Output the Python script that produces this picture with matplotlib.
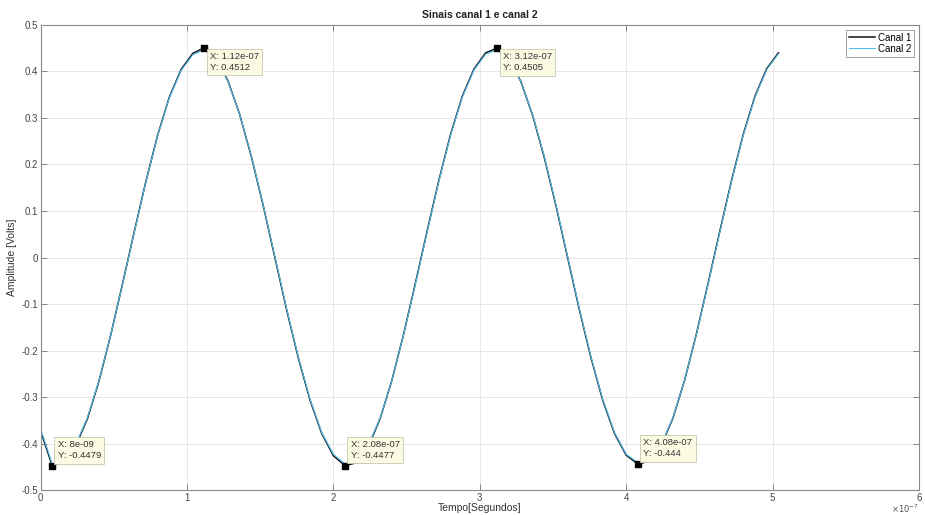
import matplotlib
matplotlib.use("Agg")
import matplotlib.pyplot as plt
from matplotlib.ticker import FormatStrFormatter, FuncFormatter

plt.rcParams["font.family"] = ["Liberation Sans", "DejaVu Sans"]
plt.rcParams["axes.unicode_minus"] = False

# tempo de amostragem (ns)
tempo_ns = [0, 8, 16, 24, 32, 40, 48, 56, 64, 72, 80, 88, 96, 104, 112, 120,
            128, 136, 144, 152, 160, 168, 176, 184, 192, 200, 208, 216, 224, 232, 240, 248,
            256, 264, 272, 280, 288, 296, 304, 312, 320, 328, 336, 344, 352, 360, 368, 376,
            384, 392, 400, 408, 416, 424, 432, 440, 448, 456, 464, 472, 480, 488, 496, 504]

canal1 = [-0.372, -0.4479, -0.440, -0.405, -0.347, -0.265, -0.166, -0.057,
          0.055, 0.164, 0.263, 0.345, 0.404, 0.439, 0.4512, 0.428,
          0.380, 0.308, 0.217, 0.113, 0.001, -0.111, -0.215, -0.306,
          -0.378, -0.426, -0.4477, -0.441, -0.406, -0.346, -0.264, -0.165,
          -0.056, 0.056, 0.165, 0.264, 0.346, 0.405, 0.440, 0.4505,
          0.427, 0.379, 0.307, 0.216, 0.112, 0.000, -0.112, -0.216,
          -0.307, -0.378, -0.425, -0.444, -0.438, -0.404, -0.345, -0.263,
          -0.164, -0.055, 0.057, 0.166, 0.265, 0.347, 0.406, 0.440]

canal2 = [-0.368, -0.444, -0.436, -0.402, -0.345, -0.264, -0.166, -0.058,
          0.054, 0.163, 0.262, 0.344, 0.402, 0.436, 0.447, 0.426,
          0.379, 0.308, 0.218, 0.114, 0.003, -0.109, -0.213, -0.304,
          -0.376, -0.423, -0.444, -0.437, -0.403, -0.345, -0.264, -0.166,
          -0.058, 0.054, 0.163, 0.262, 0.344, 0.403, 0.437, 0.447,
          0.426, 0.379, 0.308, 0.218, 0.114, 0.002, -0.110, -0.214,
          -0.305, -0.376, -0.423, -0.441, -0.435, -0.402, -0.344, -0.263,
          -0.165, -0.057, 0.055, 0.164, 0.263, 0.345, 0.404, 0.438]

# pontos marcados (datatips) no canal 1
marcas_ns = [8, 112, 208, 312, 408]

t = [v * 1e-9 for v in tempo_ns]

fig = plt.figure(figsize=(9.25, 5.15), dpi=100)
ax = fig.add_axes([0.0438, 0.0485, 0.9497, 0.903])

ax.plot(t, canal1, color="#111111", lw=1.1, label="Canal 1")
ax.plot(t, canal2, color="#4DBEEE", lw=0.8, label="Canal 2")

for m in marcas_ns:
    i = tempo_ns.index(m)
    x, y = t[i], canal1[i]
    ax.plot(x, y, "s", color="black", ms=5, zorder=5)
    txt = f"X: {x:.4g}\nY: {y:.4g}"
    if y > 0:
        off, va = (4, -3), "top"
    else:
        off, va = (4, 4), "bottom"
    ax.annotate(txt, (x, y), xytext=off, textcoords="offset points",
                ha="left", va=va, fontsize=6.8, color="#333333", zorder=6,
                linespacing=1.3,
                bbox=dict(boxstyle="square,pad=0.35", fc="#FBFBE3", ec="#C8C8B0", lw=0.6))

ax.set_xlim(0, 6e-7)
ax.set_ylim(-0.5, 0.5)
ax.set_yticks([-0.5, -0.4, -0.3, -0.2, -0.1, 0, 0.1, 0.2, 0.3, 0.4, 0.5])
ax.yaxis.set_major_formatter(FormatStrFormatter("%g"))
# eixo x em unidades de 1e-7 s, com o fator escrito no canto
ax.xaxis.set_major_formatter(FuncFormatter(lambda v, p: f"{v / 1e-7:g}"))
ax.text(1.0, -0.028, r"$\times10^{-7}$", transform=ax.transAxes, ha="right", va="top",
        fontsize=6, color="#555555")

ax.grid(True, color="#E6E6E6", lw=0.7)
ax.set_axisbelow(True)
ax.tick_params(direction="in", top=True, right=True, length=4, width=0.6,
               labelsize=7, colors="#777777", labelcolor="#444444", pad=2)
for s in ax.spines.values():
    s.set_color("#8A8A8A")
    s.set_linewidth(0.8)

ax.set_title("Sinais canal 1 e canal 2", fontsize=7.5, fontweight="bold", color="#222222", pad=5)
ax.set_xlabel("Tempo[Segundos]", fontsize=7.5, color="#333333", labelpad=0)
ax.set_ylabel("Amplitude [Volts]", fontsize=7.5, color="#333333", labelpad=3)

leg = ax.legend(loc="upper right", fontsize=7, handlelength=2.7, frameon=True,
                fancybox=False, borderaxespad=0.5, borderpad=0.3, labelspacing=0.1,
                handletextpad=0.3)
leg.get_frame().set_edgecolor("#8A8A8A")
leg.get_frame().set_linewidth(0.7)

fig.savefig("out.png", dpi=100)
